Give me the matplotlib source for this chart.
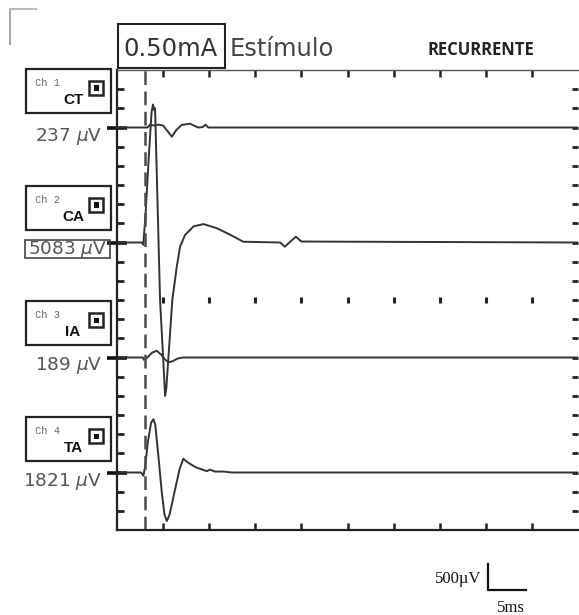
import matplotlib
matplotlib.use("Agg")
import matplotlib.pyplot as plt
from matplotlib.patches import Rectangle
from matplotlib.lines import Line2D

W, H = 579, 615

# channel info
channels = ["Ch1", "Ch2", "Ch3", "Ch4"]
muscles = ["CT", "CA", "IA", "TA"]
amplitudes = ["237", "5083", "189", "1821"]
baselines = [21, 15, 9, 3]          # in screen divisions (0 = bottom, 24 = top)

# traces: time (ms) and deflection from baseline (divisions)
ch1_t = [0, 3.3, 3.6, 4.0, 4.5, 5.0, 5.5, 5.95, 6.4, 7.0, 7.9, 8.8, 9.3, 9.6, 9.9, 50]
ch1_v = [0, 0, 0.15, 0.1, 0.15, 0.1, -0.2, -0.48, -0.15, 0.13, 0.2, 0.0, 0.02, 0.15, 0.0, 0]

ch2_t = [0, 2.7, 2.85, 3.1, 3.45, 3.75, 3.9, 4.05, 4.13, 4.67, 5.22, 5.35, 6.0, 6.49,
         6.85, 7.39, 8.3, 9.38, 10.8, 12.3, 13.7, 17.7, 18.2, 18.8, 19.4, 20.0, 50]
ch2_v = [0, 0, -0.12, 1.5, 4.5, 6.8, 7.2, 6.9, 7.0, -3.0, -8.0, -7.6, -3.0, -1.24,
         -0.2, 0.4, 0.84, 0.96, 0.75, 0.4, 0.04, 0.0, -0.22, 0.05, 0.3, 0.05, 0]

ch3_t = [0, 2.8, 2.9, 3.3, 3.8, 4.3, 4.8, 5.2, 5.6, 6.0, 6.6, 7.2, 50]
ch3_v = [0, 0, -0.12, 0.0, 0.25, 0.35, 0.15, -0.1, -0.25, -0.2, -0.05, 0, 0]

ch4_t = [0, 2.6, 2.86, 3.05, 3.35, 3.7, 3.95, 4.15, 4.5, 4.85, 5.15, 5.4, 5.7, 6.2,
         6.8, 7.2, 7.6, 8.3, 8.66, 9.75, 10.1, 10.6, 11.5, 12.5, 50]
ch4_v = [0, 0, -0.17, 0.3, 1.6, 2.6, 2.78, 2.5, 0.8, -1.0, -2.2, -2.53, -2.2, -1.1,
         0.2, 0.72, 0.55, 0.34, 0.25, 0.07, 0.15, 0.05, 0.05, 0, 0]

traces = [(ch1_t, ch1_v), (ch2_t, ch2_v), (ch3_t, ch3_v), (ch4_t, ch4_v)]

stim_ms = 3.0
major_ms = [5, 10, 15, 20, 25, 30, 35, 40, 45]


def fx(x):
    return x / W


def fy(y):
    return 1 - y / H


fig = plt.figure(figsize=(W / 100, H / 100), dpi=100)
ax = fig.add_axes([fx(117), fy(530), fx(578) - fx(117), fy(70) - fy(530)])
ax.set_xlim(0, 50)
ax.set_ylim(0, 24)

for (t, v), base in zip(traces, baselines):
    ax.plot(t, [base + d for d in v], color="#333333", lw=1.4, solid_joinstyle="round")

ax.axvline(stim_ms, color="#4a4a4a", lw=1.8, dashes=(5.5, 2.6))

# middle row of dots
ax.plot(major_ms, [12] * len(major_ms), ls="none", marker="|", ms=5, mew=2.2, color="#222222")

# spines and ticks
ax.spines["right"].set_visible(False)
ax.spines["left"].set_linewidth(1.6)
ax.spines["bottom"].set_linewidth(1.6)
ax.spines["top"].set_linewidth(1.0)
ax.spines["top"].set_color("#555555")
for s in ["left", "bottom"]:
    ax.spines[s].set_color("#222222")

ax.set_xticks(major_ms)
ax.xaxis.set_ticks_position("both")
ax.tick_params(axis="x", direction="in", length=5, width=1.8, color="#222222",
               labelbottom=False, labeltop=False)

ax.set_yticks(baselines)
ax.set_yticks([i for i in range(1, 24) if i not in baselines], minor=True)
ax.tick_params(axis="y", which="major", direction="inout", length=14, width=2.6,
               color="#111111", labelleft=False)
ax.tick_params(axis="y", which="minor", direction="in", length=5, width=2.0, color="#222222")

sec = ax.secondary_yaxis("right")
sec.set_yticks(list(range(1, 24)))
sec.tick_params(direction="in", length=4, width=2.0, color="#222222", labelright=False)
sec.spines["right"].set_visible(False)

# header
fig.text(fx(123), fy(49), "0.50mA", fontsize=17.5, color="#333333", va="center", ha="left")
fig.patches.append(Rectangle((fx(118), fy(68)), fx(225) - fx(118), fy(24) - fy(68),
                             transform=fig.transFigure, fill=False, lw=1.5, ec="#222222"))
fig.text(fx(230), fy(49), "Estímulo", fontsize=17.5, color="#444444", va="center", ha="left")
fig.text(fx(481), fy(50), "RECURRENTE", fontsize=12, fontweight="bold", family="Open Sans",
         color="#222222", va="center", ha="center")

# scan corner mark
fig.add_artist(Line2D([fx(10), fx(10)], [fy(9), fy(44)], color="#aaaaaa", lw=1.5))
fig.add_artist(Line2D([fx(10), fx(36)], [fy(9), fy(9)], color="#bbbbbb", lw=1.5))

# channel boxes
box_tops = [69, 186, 301, 417]
value_y = [136, 249, 365, 482]
for ch, mus, amp, top, vy in zip(channels, muscles, amplitudes, box_tops, value_y):
    fig.patches.append(Rectangle((fx(26), fy(top + 44)), fx(111) - fx(26), fy(top) - fy(top + 44),
                                 transform=fig.transFigure, fill=False, lw=1.6, ec="#222222"))
    fig.text(fx(35), fy(top + 14), ch[:2] + " " + ch[2], fontsize=7.5, color="#666666",
             va="center", ha="left", family="Liberation Mono")
    fig.text(fx(73), fy(top + 31), mus, fontsize=11, fontweight="bold", color="#111111",
             va="center", ha="center", family="Liberation Sans")
    fig.patches.append(Rectangle((fx(89), fy(top + 26)), fx(14), fy(0) - fy(14),
                                 transform=fig.transFigure, fill=False, lw=1.8, ec="#222222"))
    fig.patches.append(Rectangle((fx(93.5), fy(top + 21.5)), fx(5), fy(0) - fy(5),
                                 transform=fig.transFigure, fill=True, lw=0, fc="#111111"))
    if amp == "5083":
        fig.text(fx(67.5), fy(vy), amp + r" $\mu$V", fontsize=13.3, color="#555555",
                 va="center", ha="center")
    else:
        fig.text(fx(102), fy(vy), amp + r" $\mu$V", fontsize=13.3, color="#555555",
                 va="center", ha="right")

fig.patches.append(Rectangle((fx(25), fy(258)), fx(110) - fx(25), fy(240) - fy(258),
                             transform=fig.transFigure, fill=False, lw=1.2, ec="#444444"))

# scale bar: 500 uV / 5 ms
ax.plot([40.2, 40.2, 44.4], [-1.77, -3.13, -3.13], color="#111111", lw=1.6, clip_on=False)
fig.text(fx(481), fy(579), "500µV", fontsize=12, family="Liberation Serif",
         va="center", ha="right", color="#111111")
fig.text(fx(511), fy(608), "5ms", fontsize=12, family="Liberation Serif",
         va="center", ha="center", color="#111111")

fig.savefig("out.png", dpi=100)
